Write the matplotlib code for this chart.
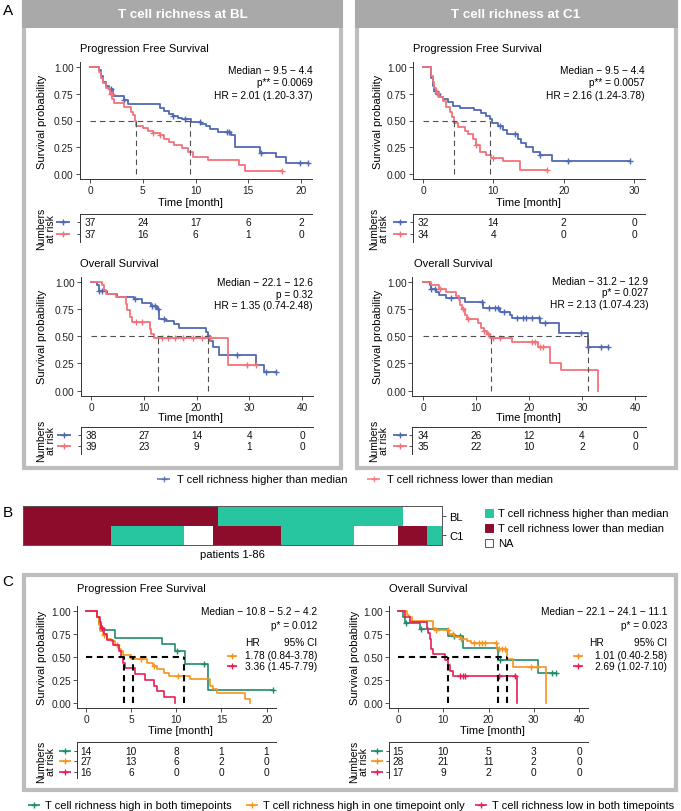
import numpy as np
import matplotlib
matplotlib.use('Agg')
import matplotlib.pyplot as plt
from matplotlib.patches import Rectangle
from matplotlib.colors import ListedColormap

plt.rcParams['font.family'] = ['Liberation Sans', 'DejaVu Sans']

# ---------------- data ----------------
# Panel A, BL, PFS
bl_pfs_hi_t = [0, 0.85, 1.05, 1.25, 1.5, 1.8, 2.2, 3.2, 3.6, 6.6, 7.0, 7.5, 7.9, 8.3, 8.7, 9.6, 10.5, 11.0, 11.4, 12.1, 13.4, 13.7, 16.1, 17.6, 18.6]
bl_pfs_hi_s = [1.0, 0.97, 0.92, 0.86, 0.82, 0.79, 0.73, 0.69, 0.65, 0.62, 0.59, 0.56, 0.54, 0.52, 0.51, 0.49, 0.47, 0.45, 0.42, 0.39, 0.36, 0.25, 0.20, 0.155, 0.10]
bl_pfs_hi_end = 20.7
bl_pfs_hi_cens = [2.0, 3.2, 7.9, 9.0, 10.4, 13.0, 13.2, 16.2, 19.9, 20.7]
bl_pfs_lo_t = [0, 0.85, 1.0, 1.2, 1.5, 1.9, 2.1, 2.3, 3.2, 3.9, 4.1, 4.3, 4.4, 5.0, 5.5, 6.0, 6.6, 7.0, 7.5, 8.0, 8.7, 9.3, 9.8, 11.2, 14.1, 14.7]
bl_pfs_lo_s = [1.0, 0.95, 0.90, 0.85, 0.80, 0.75, 0.70, 0.66, 0.63, 0.58, 0.55, 0.50, 0.45, 0.43, 0.40, 0.38, 0.36, 0.33, 0.30, 0.27, 0.24, 0.21, 0.16, 0.13, 0.08, 0.03]
bl_pfs_lo_end = 18.2
bl_pfs_lo_cens = [1.95, 2.05, 6.0, 6.6, 18.2]
bl_pfs_medians = [9.5, 4.4]

# Panel A, C1, PFS
c1_pfs_hi_t = [0, 1.2, 1.4, 1.6, 1.9, 2.4, 2.9, 3.6, 4.3, 5.2, 7.3, 8.3, 9.0, 9.5, 9.8, 10.7, 11.4, 11.9, 13.5, 14.0, 14.7, 15.7, 16.6, 18.3]
c1_pfs_hi_s = [1.0, 0.90, 0.82, 0.78, 0.75, 0.72, 0.70, 0.67, 0.64, 0.62, 0.60, 0.57, 0.54, 0.51, 0.48, 0.45, 0.41, 0.37, 0.33, 0.29, 0.25, 0.21, 0.18, 0.12]
c1_pfs_hi_end = 29.4
c1_pfs_hi_cens = [1.8, 2.1, 10.9, 13.1, 16.6, 20.6, 29.4]
c1_pfs_lo_t = [0, 1.2, 1.4, 1.6, 1.9, 2.3, 2.8, 3.3, 3.8, 4.1, 4.4, 5.0, 5.9, 6.4, 7.1, 7.6, 8.1, 9.0, 9.7, 11.4, 13.8]
c1_pfs_lo_s = [1.0, 0.92, 0.86, 0.80, 0.76, 0.72, 0.68, 0.63, 0.58, 0.53, 0.48, 0.44, 0.40, 0.37, 0.33, 0.27, 0.21, 0.18, 0.15, 0.12, 0.04]
c1_pfs_lo_end = 17.6
c1_pfs_lo_cens = [2.0, 7.6, 9.9, 17.6]
c1_pfs_medians = [9.5, 4.4]

# Panel A, BL, OS
bl_os_hi_t = [0, 1.1, 1.5, 3.0, 4.9, 8.1, 9.7, 11.3, 12.5, 12.8, 14.2, 15.7, 16.6, 21.7, 22.1, 22.6, 23.1, 24.2, 31.2, 32.8]
bl_os_hi_s = [1.0, 0.97, 0.92, 0.89, 0.86, 0.84, 0.81, 0.78, 0.75, 0.66, 0.64, 0.61, 0.58, 0.54, 0.50, 0.46, 0.40, 0.33, 0.24, 0.17]
bl_os_hi_end = 35.0
bl_os_hi_cens = [1.6, 2.0, 8.4, 11.6, 12.1, 12.6, 13.8, 22.1, 27.7, 33.2, 35.0]
bl_os_lo_t = [0, 2.1, 2.5, 2.9, 4.7, 6.6, 6.9, 7.3, 7.8, 11.1, 11.4, 11.9, 26.0]
bl_os_lo_s = [1.0, 0.97, 0.93, 0.89, 0.86, 0.80, 0.74, 0.68, 0.63, 0.57, 0.52, 0.48, 0.24]
bl_os_lo_end = 31.2
bl_os_lo_cens = [8.5, 9.6, 13.4, 14.5, 16.0, 17.4, 19.3, 21.0, 22.6, 29.5, 31.2]
bl_os_medians = [22.1, 12.6]

# Panel A, C1, OS
c1_os_hi_t = [0, 1.3, 1.6, 2.5, 3.1, 4.4, 7.9, 11.3, 14.5, 16.4, 16.7, 22.0, 25.6, 31.1]
c1_os_hi_s = [1.0, 0.97, 0.94, 0.91, 0.88, 0.85, 0.82, 0.76, 0.72, 0.70, 0.67, 0.62, 0.53, 0.40]
c1_os_hi_end = 34.9
c1_os_hi_cens = [1.6, 2.2, 5.2, 11.2, 12.5, 13.5, 14.2, 15.3, 17.8, 18.8, 19.5, 20.5, 21.8, 23.0, 29.8, 31.2, 33.5, 34.9]
c1_os_lo_t = [0, 1.6, 3.1, 4.4, 6.3, 6.7, 7.0, 7.4, 7.9, 8.3, 10.4, 11.0, 11.5, 12.1, 12.7, 16.7, 21.7, 24.0, 26.1, 33.0]
c1_os_lo_s = [1.0, 0.97, 0.94, 0.91, 0.87, 0.83, 0.79, 0.75, 0.70, 0.66, 0.62, 0.58, 0.55, 0.52, 0.48, 0.45, 0.40, 0.25, 0.19, 0.0]
c1_os_lo_end = 33.0
c1_os_lo_cens = [3.2, 7.6, 8.5, 11.5, 12.2, 13.2, 14.6, 20.5, 21.2, 22.0, 22.6]
c1_os_medians = [31.2, 12.9]

# Panel C, PFS (both high / one high / both low)
c_pfs_g_t = [0, 1.2, 1.4, 1.7, 3.2, 8.4, 9.9, 11.0, 13.5]
c_pfs_g_s = [1.0, 0.93, 0.86, 0.79, 0.71, 0.64, 0.57, 0.42, 0.14]
c_pfs_g_end = 20.7
c_pfs_g_cens = [10.1, 13.1, 20.7]
c_pfs_o_t = [0, 1.2, 1.4, 1.6, 1.9, 2.3, 2.8, 3.2, 3.6, 3.9, 4.1, 5.0, 6.8, 7.4, 7.9, 8.6, 9.2, 11.5, 13.7, 14.1, 14.5, 17.6, 18.2]
c_pfs_o_s = [1.0, 0.93, 0.85, 0.78, 0.74, 0.70, 0.67, 0.63, 0.59, 0.56, 0.52, 0.48, 0.44, 0.40, 0.37, 0.33, 0.29, 0.26, 0.19, 0.15, 0.11, 0.04, 0.0]
c_pfs_o_end = 18.2
c_pfs_o_cens = [2.0, 3.4, 6.1, 7.5, 10.2]
c_pfs_r_t = [0, 1.2, 1.5, 1.7, 2.0, 2.3, 3.0, 3.6, 3.9, 4.1, 4.3, 5.4, 6.5, 7.5, 7.9, 8.6, 9.85]
c_pfs_r_s = [1.0, 0.94, 0.88, 0.81, 0.75, 0.69, 0.63, 0.56, 0.50, 0.44, 0.38, 0.31, 0.25, 0.19, 0.13, 0.06, 0.0]
c_pfs_r_end = 9.85
c_pfs_r_cens = [1.8]
c_pfs_medians = [10.8, 5.2, 4.2]

# Panel C, OS
c_os_g_t = [0, 1.2, 1.6, 4.9, 11.1, 14.4, 22.1, 31.0]
c_os_g_s = [1.0, 0.93, 0.87, 0.80, 0.73, 0.60, 0.47, 0.33]
c_os_g_end = 35.0
c_os_g_cens = [1.8, 5.1, 12.3, 13.6, 22.6, 34.0, 35.0]
c_os_o_t = [0, 2.0, 2.4, 3.1, 7.8, 8.2, 11.3, 12.4, 13.9, 15.3, 16.2, 21.9, 24.0, 25.5, 32.7]
c_os_o_s = [1.0, 0.96, 0.93, 0.89, 0.82, 0.79, 0.75, 0.72, 0.70, 0.67, 0.65, 0.59, 0.48, 0.39, 0.0]
c_os_o_end = 32.7
c_os_o_cens = [8.4, 11.0, 12.2, 14.0, 16.8, 17.8, 18.6, 19.3, 21.6, 22.4, 23.0, 23.6, 29.3, 30.8]
c_os_r_t = [0, 1.6, 2.7, 6.4, 6.7, 7.0, 7.3, 7.8, 10.4, 11.1, 11.5, 12.2, 26.2]
c_os_r_s = [1.0, 0.94, 0.88, 0.82, 0.76, 0.70, 0.59, 0.53, 0.47, 0.41, 0.35, 0.29, 0.0]
c_os_r_end = 26.2
c_os_r_cens = [13.7, 14.3, 14.9, 22.4, 25.8]
c_os_medians = [22.1, 24.1, 11.1]

# Numbers at risk
risk_pfs_bl_times = [0, 5, 10, 15, 20]
risk_pfs_bl = [[37, 24, 17, 6, 2], [37, 16, 6, 1, 0]]
risk_pfs_c1_times = [0, 10, 20, 30]
risk_pfs_c1 = [[32, 14, 2, 0], [34, 4, 0, 0]]
risk_os_times = [0, 10, 20, 30, 40]
risk_os_bl = [[38, 27, 14, 4, 0], [39, 23, 9, 1, 0]]
risk_os_c1 = [[34, 26, 12, 4, 0], [35, 22, 10, 2, 0]]
risk_c_pfs_times = [0, 5, 10, 15, 20]
risk_c_pfs = [[14, 10, 8, 1, 1], [27, 13, 6, 2, 0], [16, 6, 0, 0, 0]]
risk_c_os_times = [0, 10, 20, 30, 40]
risk_c_os = [[15, 10, 5, 3, 0], [28, 21, 11, 2, 0], [17, 9, 2, 0, 0]]

# Panel B heatmap runs (patients 1-86)
bl_runs = [('low', 40), ('high', 38), ('NA', 8)]
c1_runs = [('low', 18), ('high', 15), ('NA', 6), ('low', 14), ('high', 15), ('NA', 9), ('low', 6), ('high', 3)]
heat_rows = ['BL', 'C1']

# text
a_labels = ['T cell richness higher than median', 'T cell richness lower than median']
c_labels = ['T cell richness high in both timepoints', 'T cell richness high in one timepoint only',
            'T cell richness low in both timepoints']
b_labels = ['T cell richness higher than median', 'T cell richness lower than median', 'NA']

BLUE = '#5069B3'
PINK = '#F4727A'
GREEN = '#1E8B6D'
ORANGE = '#F7941D'
CRIMSON = '#E91E55'
TEAL = '#27C6A1'
DARKRED = '#8E0C2B'
BORDER = '#BDBDBD'
HEAD = '#A9A9A9'

# ---------------- figure ----------------
W, H = 681, 812
fig = plt.figure(figsize=(W / 100, H / 100), dpi=100)


def px_axes(l, t, r, b):
    return fig.add_axes([l / W, 1 - b / H, (r - l) / W, (b - t) / H])


ov = px_axes(0, 0, W, H)
ov.set_xlim(0, W)
ov.set_ylim(H, 0)
ov.axis('off')

# boxes
for (l, r, t, b) in [(22, 343, 0, 471), (355, 678, 0, 471)]:
    ov.add_patch(Rectangle((l + 2, t + 2), r - l - 4, b - t - 4, fill=False, ec=BORDER, lw=3))
    ov.add_patch(Rectangle((l, t), r - l, 29, fc=HEAD, ec='none'))
ov.add_patch(Rectangle((24, 576), 652, 215, fill=False, ec=BORDER, lw=3))
ov.text(183, 15, 'T cell richness at BL', color='white', weight='bold', fontsize=9.6, ha='center', va='center')
ov.text(516, 15, 'T cell richness at C1', color='white', weight='bold', fontsize=9.6, ha='center', va='center')

for lab, y in [('A', 11), ('B', 513), ('C', 582)]:
    ov.text(8, y, lab, fontsize=11, ha='center', va='center')

FS = 7.3


def km(ax, t, s, tend, cens, color, lw=1.3, ms=5):
    tt = list(t) + [tend]
    ss = list(s) + [s[-1]]
    ax.step(tt, ss, where='post', color=color, lw=lw, zorder=3)
    c = np.asarray(cens, dtype=float)
    idx = np.searchsorted(np.asarray(t), c, side='right') - 1
    ax.plot(c, np.asarray(s)[idx], ls='none', marker='+', color=color, ms=ms, mew=1.0, zorder=3)


def medians(ax, meds, color, lw, dashes):
    ax.plot([0, max(meds)], [0.5, 0.5], color=color, lw=lw, dashes=dashes, zorder=4)
    for m in meds:
        ax.plot([m, m], [0, 0.5], color=color, lw=lw, dashes=dashes, zorder=4)


def style_km(ax, xlim, xticks):
    ax.set_facecolor('none')
    ax.set_xlim(xlim)
    ax.set_ylim(-0.05, 1.05)
    ax.set_xticks(xticks)
    ax.set_yticks([0, 0.25, 0.5, 0.75, 1.0])
    ax.set_yticklabels(['0.00', '0.25', '0.50', '0.75', '1.00'])
    for sp in ['top', 'right']:
        ax.spines[sp].set_visible(False)
    for sp in ['left', 'bottom']:
        ax.spines[sp].set_linewidth(0.7)
        ax.spines[sp].set_color('#333333')
    ax.tick_params(length=2.8, width=0.6, labelsize=FS, pad=1.5, color='#333333', labelcolor='#222222')


def risk_table(ax, xlim, times, rows, n_pad_top, n_pad_bot):
    n = len(rows)
    ax.set_facecolor('none')
    ax.set_xlim(xlim)
    ax.set_ylim(n - 1 + n_pad_bot, -n_pad_top)
    for i, row in enumerate(rows):
        for tt, v in zip(times, row):
            ax.text(tt, i, str(v), ha='center', va='center', fontsize=FS, color='#111111')
    ax.set_xticks([])
    ax.set_yticks(range(n))
    ax.set_yticklabels([''] * n)
    ax.tick_params(axis='y', length=2, width=0.6, color='#333333')
    for sp in ['bottom', 'right']:
        ax.spines[sp].set_visible(False)
    for sp in ['left', 'top']:
        ax.spines[sp].set_linewidth(0.7)
        ax.spines[sp].set_color('#333333')


def glyph(x0, x1, y, color, lw=1.3, ms=5, alpha=1.0):
    ov.plot([x0, x1], [y, y], color=color, lw=lw, alpha=alpha, solid_capstyle='butt')
    ov.plot([(x0 + x1) / 2], [y], marker='+', color=color, ms=ms, mew=1.0, alpha=alpha)


# ---------- Panel A: KM plots ----------
specs = [
    # (axes rect l,t,r,b ; xlim ; xticks ; curves ; medians)
    ((79.5, 62.6, 311.5, 180.4), (-1, 21), [0, 5, 10, 15, 20],
     [(bl_pfs_hi_t, bl_pfs_hi_s, bl_pfs_hi_end, bl_pfs_hi_cens, BLUE),
      (bl_pfs_lo_t, bl_pfs_lo_s, bl_pfs_lo_end, bl_pfs_lo_cens, PINK)], bl_pfs_medians),
    ((412.5, 62.6, 644.5, 180.4), (-1.5, 31.5), [0, 10, 20, 30],
     [(c1_pfs_hi_t, c1_pfs_hi_s, c1_pfs_hi_end, c1_pfs_hi_cens, BLUE),
      (c1_pfs_lo_t, c1_pfs_lo_s, c1_pfs_lo_end, c1_pfs_lo_cens, PINK)], c1_pfs_medians),
    ((80.5, 277.6, 312.6, 397.0), (-2, 42), [0, 10, 20, 30, 40],
     [(bl_os_hi_t, bl_os_hi_s, bl_os_hi_end, bl_os_hi_cens, BLUE),
      (bl_os_lo_t, bl_os_lo_s, bl_os_lo_end, bl_os_lo_cens, PINK)], bl_os_medians),
    ((412.4, 277.6, 645.6, 397.0), (-2, 42), [0, 10, 20, 30, 40],
     [(c1_os_hi_t, c1_os_hi_s, c1_os_hi_end, c1_os_hi_cens, BLUE),
      (c1_os_lo_t, c1_os_lo_s, c1_os_lo_end, c1_os_lo_cens, PINK)], c1_os_medians),
]
for rect, xlim, xt, curves, meds in specs:
    ax = px_axes(*rect)
    style_km(ax, xlim, xt)
    for t, s, e, c, col in curves:
        km(ax, t, s, e, c, col)
    medians(ax, meds, '#505050', 0.8, (5, 3.5))

# titles, labels, annotations for A
for x, y in [(80, 49), (413, 49)]:
    ov.text(x, y, 'Progression Free Survival', fontsize=8, ha='left', va='center')
for x, y in [(80, 264), (414, 264)]:
    ov.text(x, y, 'Overall Survival', fontsize=8, ha='left', va='center')
for x, y in [(190, 203), (528, 203), (190, 418), (528, 418), (180, 731), (492, 731)]:
    ov.text(x, y, 'Time [month]', fontsize=8, ha='center', va='center')
for x, y in [(42, 121.5), (378, 121.5), (42, 337), (378, 337), (42, 658), (355, 658)]:
    ov.text(x, y, 'Survival probability', fontsize=8, ha='center', va='center', rotation=90)

ann = [
    (313, [71, 83.5, 96], ['Median − 9.5 − 4.4', 'p** = 0.0069', 'HR = 2.01 (1.20-3.37)']),
    (645, [71, 83.5, 96], ['Median − 9.5 − 4.4', 'p** = 0.0057', 'HR = 2.16 (1.24-3.78)']),
    (313, [283, 295, 306.5], ['Median − 22.1 − 12.6', 'p = 0.32', 'HR = 1.35 (0.74-2.48)']),
    (648, [282, 293.5, 305], ['Median − 31.2 − 12.9', 'p* = 0.027', 'HR = 2.13 (1.07-4.23)']),
]
for x, ys, txts in ann:
    for y, tx in zip(ys, txts):
        ov.text(x, y, tx, fontsize=FS, ha='right', va='center')

# risk tables A
rt_specs = [
    ((79.5, 215, 311.5, 243), (-1, 21), risk_pfs_bl_times, risk_pfs_bl, 63, 46, 229),
    ((412.5, 215, 644.5, 243), (-1.5, 31.5), risk_pfs_c1_times, risk_pfs_c1, 400, 379, 229),
    ((80.5, 428, 312.6, 455), (-2, 42), risk_os_times, risk_os_bl, 64, 46, 441),
    ((412.4, 428, 645.6, 455), (-2, 42), risk_os_times, risk_os_c1, 400, 379, 441),
]
for rect, xlim, times, rows, gx, nx, ny in rt_specs:
    ax = px_axes(*rect)
    risk_table(ax, xlim, times, rows, 0.65, 0.65)
    l, t, r, b = rect
    for i, col in enumerate([BLUE, PINK]):
        y = t + (0.65 + i) * (b - t) / (1 + 1.3)
        glyph(gx - 7, gx + 7, y, col)
    ov.text(nx, ny, 'Numbers\nat risk', fontsize=7.5, rotation=90, ha='center', va='center', linespacing=0.9)

# legend A
glyph(157, 170, 480, BLUE, alpha=0.8)
ov.text(177, 480, a_labels[0], fontsize=8, va='center')
glyph(367, 380, 480, PINK, alpha=0.8)
ov.text(387, 480, a_labels[1], fontsize=8, va='center')

# ---------- Panel B heatmap ----------
code = {'high': 0, 'low': 1, 'NA': 2}


def expand(runs):
    out = []
    for st, n in runs:
        out += [code[st]] * n
    return out


mat = np.array([expand(bl_runs), expand(c1_runs)])
axb = px_axes(23, 507, 442, 546)
cmap = ListedColormap([TEAL, DARKRED, 'white'])
axb.pcolormesh(np.arange(mat.shape[1] + 1), np.arange(mat.shape[0] + 1), mat, cmap=cmap, vmin=-0.5, vmax=2.5)
axb.set_xlim(0, mat.shape[1])
axb.set_ylim(mat.shape[0], 0)
axb.set_xticks([])
axb.yaxis.tick_right()
axb.set_yticks([0.5, 1.5])
axb.set_yticklabels(heat_rows)
axb.tick_params(axis='y', length=3, width=0.6, labelsize=8, pad=2, color='#333333')
for sp in axb.spines.values():
    sp.set_linewidth(0.7)
    sp.set_color('#555555')
ov.text(232, 555, 'patients 1-86', fontsize=8, ha='center', va='center')
for (col, lab, y) in zip([TEAL, DARKRED, 'white'], b_labels, [514, 529, 544]):
    ov.add_patch(Rectangle((485, y - 4), 8, 8, fc=col, ec='#555555' if col == 'white' else col, lw=0.7))
    ov.text(498, y, lab, fontsize=8, va='center')

# ---------- Panel C ----------
c_specs = [
    ((77, 607.4, 275.6, 708.6), (-1, 21), [0, 5, 10, 15, 20],
     [(c_pfs_g_t, c_pfs_g_s, c_pfs_g_end, c_pfs_g_cens, GREEN),
      (c_pfs_o_t, c_pfs_o_s, c_pfs_o_end, c_pfs_o_cens, ORANGE),
      (c_pfs_r_t, c_pfs_r_s, c_pfs_r_end, c_pfs_r_cens, CRIMSON)], c_pfs_medians),
    ((389, 607.4, 588, 708.6), (-2, 42), [0, 10, 20, 30, 40],
     [(c_os_g_t, c_os_g_s, c_os_g_end, c_os_g_cens, GREEN),
      (c_os_o_t, c_os_o_s, c_os_o_end, c_os_o_cens, ORANGE),
      (c_os_r_t, c_os_r_s, c_os_r_end, c_os_r_cens, CRIMSON)], c_os_medians),
]
for rect, xlim, xt, curves, meds in c_specs:
    ax = px_axes(*rect)
    style_km(ax, xlim, xt)
    for t, s, e, c, col in curves:
        km(ax, t, s, e, c, col, lw=1.2)
    medians(ax, meds, 'black', 1.5, (3, 2.2))

ov.text(77, 589, 'Progression Free Survival', fontsize=8, ha='left', va='center')
ov.text(389, 589, 'Overall Survival', fontsize=8, ha='left', va='center')

c_ann = [
    (317, 253, 227, ['Median − 10.8 − 5.2 − 4.2', 'p* = 0.012'], ['1.78 (0.84-3.78)', '3.36 (1.45-7.79)']),
    (667, 596, 573, ['Median − 22.1 − 24.1 − 11.1', 'p* = 0.023'], ['1.01 (0.40-2.58)', '2.69 (1.02-7.10)']),
]
for xr, xhr, gx, top, rows in c_ann:
    ov.text(xr, 612, top[0], fontsize=FS, ha='right', va='center')
    ov.text(xr, 626, top[1], fontsize=FS, ha='right', va='center')
    ov.text(xhr, 643, 'HR', fontsize=FS, ha='center', va='center')
    ov.text(xr, 643, '95% CI', fontsize=FS, ha='right', va='center')
    for y, tx, col in zip([656.5, 667], rows, [ORANGE, CRIMSON]):
        glyph(gx, gx + 10, y, col, lw=1.2)
        ov.text(xr, y, tx, fontsize=FS, ha='right', va='center')

c_rt = [
    ((77, 743, 275.6, 779), (-1, 21), risk_c_pfs_times, risk_c_pfs, 65, 46),
    ((389, 743, 588, 779), (-2, 42), risk_c_os_times, risk_c_os, 377, 359),
]
for rect, xlim, times, rows, gx, nx in c_rt:
    ax = px_axes(*rect)
    risk_table(ax, xlim, times, rows, 0.86, 0.6)
    l, t, r, b = rect
    for i, col in enumerate([GREEN, ORANGE, CRIMSON]):
        y = t + (0.86 + i) * (b - t) / (2 + 0.86 + 0.6)
        glyph(gx - 6, gx + 6, y, col, lw=1.2)
    ov.text(nx, 762, 'Numbers\nat risk', fontsize=7.5, rotation=90, ha='center', va='center', linespacing=0.9)

# legend C
for x, col, lab in [(34, GREEN, c_labels[0]), (252, ORANGE, c_labels[1]), (481, CRIMSON, c_labels[2])]:
    glyph(x - 6, x + 6, 806, col, lw=1.2)
    ov.text(x + 11, 806, lab, fontsize=8, va='center')

fig.savefig('out.png', dpi=100)
